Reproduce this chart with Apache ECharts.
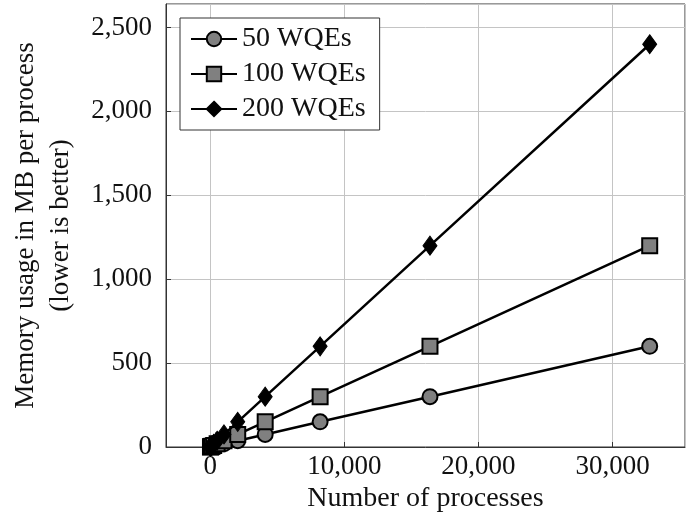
<!DOCTYPE html>
<html>
<head>
<meta charset="utf-8">
<script src="https://cdn.jsdelivr.net/npm/echarts@6/dist/echarts.min.js"></script>
<style>
  html, body { margin: 0; padding: 0; background: #fff; }
  #chart { width: 687px; height: 524px; }
</style>
</head>
<body>
<div id="chart"></div>
<script>
// number of processes (x) and memory per process in MB for each queue depth
var processes = [16, 32, 64, 128, 256, 512, 1024, 2048, 4096, 8192, 16384, 32768];
var wqe50 = [0.29, 0.59, 1.17, 2.34, 4.69, 9.38, 18.75, 37.5, 75, 150, 300, 600];
var wqe100 = [0.59, 1.17, 2.34, 4.69, 9.38, 18.75, 37.5, 75, 150, 300, 600, 1200];
var wqe200 = [1.17, 2.34, 4.69, 9.38, 18.75, 37.5, 75, 150, 300, 600, 1200, 2400];
var seriesNames = ['50 WQEs', '100 WQEs', '200 WQEs'];
var yTicks = [0, 500, 1000, 1500, 2000, 2500];

var FONT = '"Liberation Serif", "DejaVu Serif", serif';

function pairs(ys) {
    var out = [];
    for (var i = 0; i < processes.length; i++) {
        out.push([processes[i], ys[i]]);
    }
    return out;
}

function fmt(v) {
    return Number(v).toLocaleString('en-US');
}

var chart = echarts.init(document.getElementById('chart'), null, { renderer: 'canvas' });

var option = {
    animation: false,
    backgroundColor: '#fff',
    grid: {
        left: 163,
        right: 2,
        top: 4,
        bottom: 77,
        show: true,
        borderColor: '#333',
        borderWidth: 1
    },
    legend: {
        orient: 'vertical',
        left: 180,
        top: 18,
        padding: [7, 14, 7, 10],
        itemGap: 7,
        itemWidth: 46,
        itemHeight: 18,
        borderColor: '#333',
        borderWidth: 1,
        backgroundColor: '#fff',
        textStyle: {
            fontFamily: FONT,
            fontSize: 28,
            lineHeight: 28,
            color: '#111'
        },
        data: seriesNames
    },
    xAxis: {
        type: 'value',
        min: -3300,
        max: 35400,
        splitNumber: 4,
        name: 'Number of processes',
        nameLocation: 'middle',
        nameGap: 35,
        nameTextStyle: { fontFamily: FONT, fontSize: 28, color: '#111' },
        axisLine: { onZero: false, lineStyle: { color: '#333' } },
        axisTick: { show: true, inside: true, length: 5, lineStyle: { color: '#333' } },
        axisLabel: {
            fontFamily: FONT,
            fontSize: 27,
            color: '#111',
            margin: 6,
            showMinLabel: false,
            showMaxLabel: false,
            formatter: function (v) {
                return v % 10000 === 0 ? fmt(v) : '';
            }
        },
        splitLine: { show: true, lineStyle: { color: '#c4c4c4', width: 1 } }
    },
    yAxis: {
        type: 'value',
        min: 0,
        max: 2640,
        interval: 500,
        name: 'Memory usage in MB per process\n(lower is better)',
        nameLocation: 'middle',
        nameRotate: 90,
        nameGap: 88,
        nameTextStyle: { fontFamily: FONT, fontSize: 27, lineHeight: 35, color: '#111', align: 'center' },
        axisLine: { show: true, onZero: false, lineStyle: { color: '#333' } },
        axisTick: { show: true, inside: true, length: 5, lineStyle: { color: '#333' } },
        axisLabel: {
            fontFamily: FONT,
            fontSize: 27,
            color: '#111',
            margin: 14,
            showMaxLabel: false,
            formatter: function (v) {
                return yTicks.indexOf(v) >= 0 ? fmt(v) : '';
            }
        },
        splitLine: { show: true, lineStyle: { color: '#c4c4c4', width: 1 } }
    },
    series: [{
        name: seriesNames[0],
        type: 'line',
        data: pairs(wqe50),
        clip: false,
        symbol: 'circle',
        symbolSize: 15,
        lineStyle: { color: '#000', width: 2.5 },
        itemStyle: { color: '#808080', borderColor: '#000', borderWidth: 2 },
        z: 3
    }, {
        name: seriesNames[1],
        type: 'line',
        data: pairs(wqe100),
        clip: false,
        symbol: 'rect',
        symbolSize: 15,
        lineStyle: { color: '#000', width: 2.5 },
        itemStyle: { color: '#808080', borderColor: '#000', borderWidth: 2 },
        z: 4
    }, {
        name: seriesNames[2],
        type: 'line',
        data: pairs(wqe200),
        clip: false,
        symbol: 'diamond',
        symbolSize: [14, 19],
        lineStyle: { color: '#000', width: 2.5 },
        itemStyle: { color: '#000', borderColor: '#000', borderWidth: 1 },
        z: 5
    }]
};

chart.setOption(option);
</script>
</body>
</html>
